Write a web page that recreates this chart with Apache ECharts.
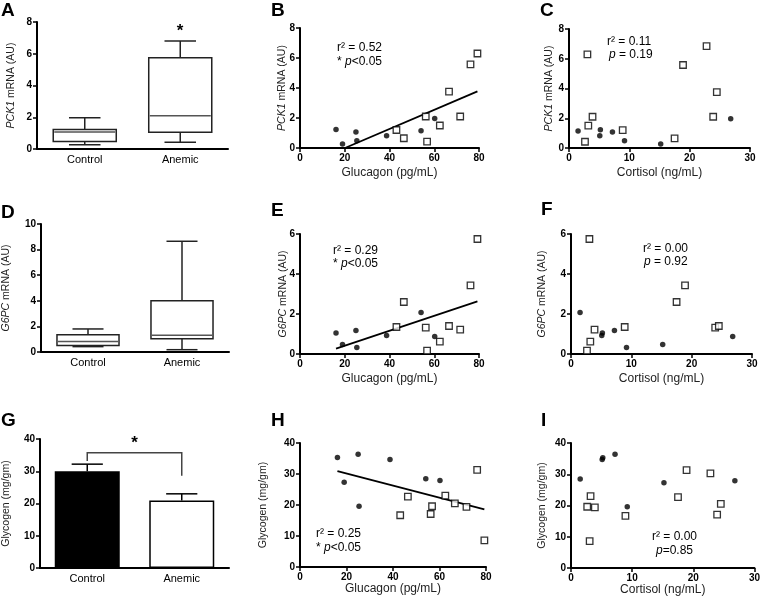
<!DOCTYPE html>
<html><head><meta charset="utf-8">
<script src="https://cdn.jsdelivr.net/npm/echarts@6/dist/echarts.min.js"></script>
<style>html,body{margin:0;padding:0;background:#fff}#c{width:763px;height:599px}</style>
</head><body><div id="c"></div>
<script>
// ---------------- DATA ----------------
const groups = ['Control', 'Anemic'];
// five-number summaries [min, q1, median, q3, max]
const pck1Box = [[0.27, 0.48, 1.07, 1.23, 1.97], [0.42, 1.05, 2.1, 5.75, 6.8]];
const g6pcBox = [[0.42, 0.5, 0.83, 1.35, 1.8], [0.18, 1.04, 1.3, 4.0, 8.65]];
const glycogenMean = [30.0, 20.9];
const glycogenUpper = [32.2, 23.0];
const bracketLevels = [33.2, 35.7, 28.6]; // left foot, top, right foot
const bracketStarLevel = 38.6;

// per-animal values, control (filled circles)
const ctrlGlucagon = [16.1, 19.0, 25.0, 25.4, 38.7, 54.1, 60.2];
const ctrlCortisol = [5.2, 15.2, 7.2, 9.2, 5.1, 1.5, 26.8];
const ctrlPCK1 = [1.23, 0.27, 1.07, 0.48, 0.82, 1.15, 1.97];
const ctrlG6PC = [1.05, 0.47, 1.17, 0.33, 0.92, 2.07, 0.88];
const ctrlGlycogen = [35.3, 27.3, 36.4, 19.6, 34.7, 28.5, 27.9];

// per-animal values, anemic (open squares)
const anemGlucagon = [43.1, 46.4, 56.2, 56.8, 62.5, 66.6, 71.6, 76.2, 79.3, null];
const anemCortisol = [8.9, 17.5, 23.9, 2.65, 3.2, 24.5, 3.9, 18.9, 3.05, 22.8];
const anemPCK1 = [1.2, 0.65, 2.1, 0.42, 1.5, 3.76, 2.1, 5.58, 6.3, 6.85];
const anemG6PC = [1.35, 2.6, 1.32, 0.17, 0.62, 1.4, 1.22, 3.43, 5.75, null];
const anemGlycogen = [16.7, 22.7, 17.1, 19.6, 23.0, 20.5, 19.4, 31.3, 8.6, 30.3];

// regression lines (end points)
const fitPCK1Glucagon = [[20.1, 0], [79.3, 3.78]];
const fitG6PCGlucagon = [[16.1, 0.27], [79.3, 2.63]];
const fitGlycogenGlucagon = [[16.1, 30.9], [79.3, 18.6]];

// ---------------- CHART ----------------
const FF = '"Liberation Sans", Arial, Helvetica, sans-serif';
const grids = [
  {left: 37, top: 22, width: 191, height: 127},   // A
  {left: 300, top: 28, width: 179, height: 120},  // B
  {left: 569, top: 29, width: 181, height: 119},  // C
  {left: 37, top: 224, width: 192, height: 128},  // D
  {left: 300, top: 234, width: 179, height: 120}, // E
  {left: 571, top: 234, width: 181, height: 120}, // F
  {left: 37, top: 439, width: 192, height: 129},  // G
  {left: 300, top: 443, width: 186, height: 124}, // H
  {left: 571, top: 443, width: 184, height: 125}  // I
];

const axLine = {show: true, onZero: false, lineStyle: {color: '#000', width: 2}};
const axTick = {show: true, length: 4, lineStyle: {color: '#000', width: 1.5}};
const tickLbl = {fontFamily: FF, fontSize: 10, fontWeight: 'bold', color: '#000', margin: 5};
const nameStyle = (size) => ({fontFamily: FF, fontSize: size, color: '#222',
  rich: {i: {fontFamily: FF, fontSize: size, fontStyle: 'italic', color: '#222'}}});

function catX(g) {
  return {type: 'category', gridIndex: g, data: groups, boundaryGap: true,
    axisLine: axLine, axisTick: {show: false},
    axisLabel: {fontFamily: FF, fontSize: 11, color: '#000', margin: 5}, splitLine: {show: false}};
}
function valX(g, max, interval, name, gap) {
  return {type: 'value', gridIndex: g, min: 0, max: max, interval: interval,
    axisLine: axLine, axisTick: axTick, axisLabel: tickLbl, splitLine: {show: false},
    name: name, nameLocation: 'middle', nameGap: gap, nameMoveOverlap: false, nameTextStyle: nameStyle(12)};
}
function valY(g, max, interval, name, gap) {
  return {type: 'value', gridIndex: g, min: 0, max: max, interval: interval,
    axisLine: axLine, axisTick: axTick, axisLabel: tickLbl, splitLine: {show: false},
    name: name, nameLocation: 'middle', nameGap: gap, nameMoveOverlap: false, nameTextStyle: nameStyle(10.5)};
}

const xAxes = [
  catX(0),
  valX(1, 80, 20, 'Glucagon (pg/mL)', 19),
  valX(2, 30, 10, 'Cortisol (ng/mL)', 19),
  catX(3),
  valX(4, 80, 20, 'Glucagon (pg/mL)', 19),
  valX(5, 30, 10, 'Cortisol (ng/mL)', 19),
  catX(6),
  valX(7, 80, 20, 'Glucagon (pg/mL)', 16),
  valX(8, 30, 10, 'Cortisol (ng/mL)', 16)
];
const yAxes = [
  valY(0, 8, 2, '{i|PCK1} mRNA (AU)', 20),
  valY(1, 8, 2, '{i|PCK1} mRNA (AU)', 12),
  valY(2, 8, 2, '{i|PCK1} mRNA (AU)', 14),
  valY(3, 10, 2, '{i|G6PC} mRNA (AU)', 29),
  valY(4, 6, 2, '{i|G6PC} mRNA (AU)', 11),
  valY(5, 6, 2, '{i|G6PC} mRNA (AU)', 23),
  valY(6, 40, 10, 'Glycogen (mg/gm)', 28),
  valY(7, 40, 10, 'Glycogen (mg/gm)', 31),
  valY(8, 40, 10, 'Glycogen (mg/gm)', 23)
];

function boxItem(params, api) {
  const c = api.value(0);
  const band = api.size([1, 0])[0];
  const bw = band * 0.66, cw = band * 0.33;
  const p = (i) => api.coord([c, api.value(i)]);
  const pmin = p(1), q1 = p(2), med = p(3), q3 = p(4), pmax = p(5);
  const cx = pmin[0];
  const st = {stroke: '#222', lineWidth: 1.5, fill: null};
  return {type: 'group', children: [
    {type: 'line', shape: {x1: cx, y1: q3[1], x2: cx, y2: pmax[1]}, style: st},
    {type: 'line', shape: {x1: cx - cw / 2, y1: pmax[1], x2: cx + cw / 2, y2: pmax[1]}, style: st},
    {type: 'line', shape: {x1: cx, y1: q1[1], x2: cx, y2: pmin[1]}, style: st},
    {type: 'line', shape: {x1: cx - cw / 2, y1: pmin[1], x2: cx + cw / 2, y2: pmin[1]}, style: st},
    {type: 'rect', shape: {x: cx - bw / 2, y: q3[1], width: bw, height: q1[1] - q3[1]},
      style: {fill: '#fff', stroke: '#222', lineWidth: 1.5}},
    {type: 'line', shape: {x1: cx - bw / 2 + 1, y1: med[1], x2: cx + bw / 2 - 1, y2: med[1]},
      style: {stroke: '#555', lineWidth: 1.5}}
  ]};
}
function errItem(params, api) {
  const c = api.value(0);
  const band = api.size([1, 0])[0];
  const cw = band * 0.33;
  const a = api.coord([c, api.value(1)]), b = api.coord([c, api.value(2)]);
  const st = {stroke: '#000', lineWidth: 1.5};
  return {type: 'group', children: [
    {type: 'line', shape: {x1: a[0], y1: a[1], x2: b[0], y2: b[1]}, style: st},
    {type: 'line', shape: {x1: b[0] - cw / 2, y1: b[1], x2: b[0] + cw / 2, y2: b[1]}, style: st}
  ]};
}
function bracketItem(params, api) {
  const l = api.coord([0, api.value(0)]), lt = api.coord([0, api.value(1)]);
  const rt = api.coord([1, api.value(1)]), r = api.coord([1, api.value(2)]);
  const s = api.coord([0, api.value(3)]);
  return {type: 'group', children: [
    {type: 'polyline', shape: {points: [l, lt, rt, r]}, style: {stroke: '#444', lineWidth: 1.5, fill: null}},
    {type: 'text', x: (l[0] + r[0]) / 2, y: s[1],
      style: {text: '*', fontFamily: FF, fontSize: 17, fontWeight: 'bold', fill: '#000', align: 'center', verticalAlign: 'middle'}}
  ]};
}

const pts = (xs, ys) => xs.map((x, i) => [x, ys[i]]).filter(p => p[0] != null && p[1] != null);
const dotStyle = {symbol: 'circle', symbolSize: 5.5, itemStyle: {color: '#000'}};
const sqStyle = {symbol: 'rect', symbolSize: 6.5, itemStyle: {color: '#fff', borderColor: '#000', borderWidth: 1.3}};

function scatterSet(g, cx, cy, ax, ay, fit) {
  const out = [];
  if (fit) out.push({type: 'line', xAxisIndex: g, yAxisIndex: g, data: fit, symbol: 'none',
    lineStyle: {color: '#000', width: 1.8}, silent: true, z: 2});
  out.push(Object.assign({type: 'scatter', xAxisIndex: g, yAxisIndex: g, data: pts(cx, cy), z: 3}, dotStyle));
  out.push(Object.assign({type: 'scatter', xAxisIndex: g, yAxisIndex: g, data: pts(ax, ay), z: 3}, sqStyle));
  return out;
}

const series = [
  {type: 'custom', xAxisIndex: 0, yAxisIndex: 0, renderItem: boxItem,
    data: pck1Box.map((b, i) => [i, ...b]), encode: {x: 0, y: [1, 2, 3, 4, 5]}},
  {type: 'custom', xAxisIndex: 3, yAxisIndex: 3, renderItem: boxItem,
    data: g6pcBox.map((b, i) => [i, ...b]), encode: {x: 0, y: [1, 2, 3, 4, 5]}},
  {type: 'bar', xAxisIndex: 6, yAxisIndex: 6, barWidth: 65,
    data: glycogenMean.map((v, i) => ({value: v, itemStyle: i === 0
      ? {color: '#000', borderColor: '#000', borderWidth: 1.5}
      : {color: '#fff', borderColor: '#000', borderWidth: 1.5}}))},
  {type: 'custom', xAxisIndex: 6, yAxisIndex: 6, renderItem: errItem, z: 3,
    data: glycogenMean.map((v, i) => [i, v, glycogenUpper[i]]), encode: {x: 0, y: [1, 2]}},
  {type: 'custom', xAxisIndex: 6, yAxisIndex: 6, renderItem: bracketItem, z: 3,
    data: [[...bracketLevels, bracketStarLevel]], encode: {y: [0, 1, 2, 3]}},
  ...scatterSet(1, ctrlGlucagon, ctrlPCK1, anemGlucagon, anemPCK1, fitPCK1Glucagon),
  ...scatterSet(2, ctrlCortisol, ctrlPCK1, anemCortisol, anemPCK1, null),
  ...scatterSet(4, ctrlGlucagon, ctrlG6PC, anemGlucagon, anemG6PC, fitG6PCGlucagon),
  ...scatterSet(5, ctrlCortisol, ctrlG6PC, anemCortisol, anemG6PC, null),
  ...scatterSet(7, ctrlGlucagon, ctrlGlycogen, anemGlucagon, anemGlycogen, fitGlycogenGlucagon),
  ...scatterSet(8, ctrlCortisol, ctrlGlycogen, anemCortisol, anemGlycogen, null)
];

const rich = {n: {fontFamily: FF, fontSize: 12, fill: '#000'},
  i: {fontFamily: FF, fontSize: 12, fontStyle: 'italic', fill: '#000'}};
function txt(x, y, text, opt) {
  return {type: 'text', x: x, y: y, silent: true,
    style: Object.assign({text: text, fontFamily: FF, fontSize: 12, fill: '#000', verticalAlign: 'middle', rich: rich}, opt || {})};
}
function letter(x, y, t) { return txt(x, y, t, {fontSize: 19, fontWeight: 'bold'}); }

const graphic = [
  letter(1, 11, 'A'), letter(271, 11, 'B'), letter(540, 11, 'C'),
  letter(1, 213, 'D'), letter(271, 211, 'E'), letter(541, 210, 'F'),
  letter(1, 421, 'G'), letter(271, 421, 'H'), letter(541, 421, 'I'),
  txt(180, 31, '*', {fontSize: 17, fontWeight: 'bold', align: 'center'}),
  txt(337, 48, '{n|r² = 0.52}'), txt(337, 62, '{n|* }{i|p}{n|<0.05}'),
  txt(607, 42, '{n|r² = 0.11}'), txt(609, 55, '{i|p}{n| = 0.19}'),
  txt(333, 251, '{n|r² = 0.29}'), txt(333, 264, '{n|* }{i|p}{n|<0.05}'),
  txt(643, 249, '{n|r² = 0.00}'), txt(644, 262, '{i|p}{n| = 0.92}'),
  txt(316, 534, '{n|r² = 0.25}'), txt(316, 548, '{n|* }{i|p}{n|<0.05}'),
  txt(652, 537, '{n|r² = 0.00}'), txt(656, 551, '{i|p}{n|=0.85}')
];

const chart = echarts.init(document.getElementById('c'), null, {renderer: 'canvas'});
chart.setOption({
  animation: false,
  backgroundColor: '#fff',
  grid: grids,
  xAxis: xAxes,
  yAxis: yAxes,
  series: series,
  graphic: graphic
});
</script></body></html>
